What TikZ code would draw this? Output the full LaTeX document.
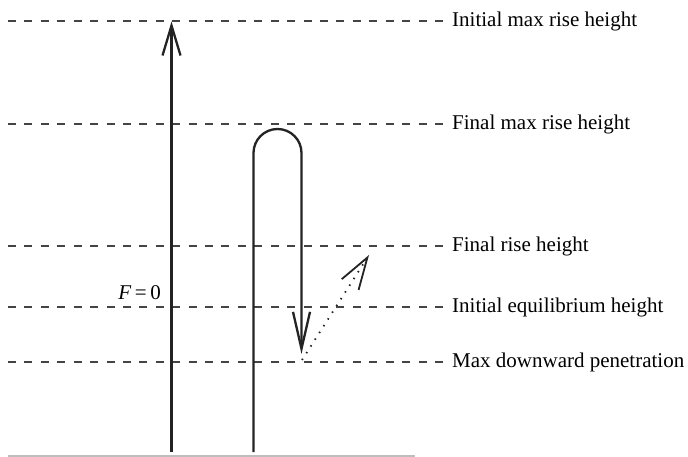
\documentclass[tikz,border=0pt]{standalone}
\usepackage{fontspec}
\setmainfont{Liberation Serif}
\usetikzlibrary{arrows.meta,positioning}
\definecolor{inkgray}{RGB}{35,35,35}
\definecolor{basegray}{RGB}{190,190,190}

\begin{document}
\begin{tikzpicture}[x=1pt,y=-1pt,font=\fontsize{21}{25}\selectfont,
lvl/.style={dash pattern=on 8pt off 8.42pt,line width=2pt,draw=inkgray!85},
lbl/.style={anchor=west,inner sep=0pt},
track/.style={line width=2.3pt,draw=inkgray,line join=round},
upar/.style={-{Straight Barb[length=30pt,width=18pt]}},
dnar/.style={-{Straight Barb[length=37pt,width=17pt]}},
rebound/.style={line width=1.8pt,draw=inkgray,dash pattern=on 1.5pt off 6.5pt,-{Straight Barb[length=32pt,width=20pt]}}]
\useasboundingbox(0,0)rectangle(688,457);

% level lines and their labels
\node[lbl](imax)at(452,21){Initial max rise height};
\node[lbl](fmax)at(452,124){Final max rise height};
\node[lbl](frise)at(452,246){Final rise height};
\node[lbl](ieq)at(452,307){Initial equilibrium height};
\node[lbl](mdown)at(452,362){Max downward penetration};
\draw[lvl](8,21)--(imax.west-|443,0);
\draw[lvl](8,124)--(fmax.west-|443,0);
\draw[lvl](8,246)--(frise.west-|443,0);
\draw[lvl](8,307)--(ieq.west-|443,0);
\draw[lvl](8,362)--(mdown.west-|443,0);

% plume paths
\coordinate(a0)at(171.5,452);\coordinate(a1)at(171.5,21.5);
\coordinate(b0)at(253.5,452);\coordinate(b1)at(253.5,153);\coordinate(b2)at(301.5,354);
\coordinate(c0)at(302,360);\coordinate(c1)at(369,255);
\draw[track,upar](a0)--(a1);
\draw[track,dnar](b0)--(b1)arc(180:360:24)--(b2);
\draw[rebound](c0)--(c1);
\node[anchor=south east,inner sep=0pt](fzero)at(161,300){\textit{F}\,=\,0};

\draw[basegray,line width=1.5pt](8,456)--(415,456);
\end{tikzpicture}
\end{document}
